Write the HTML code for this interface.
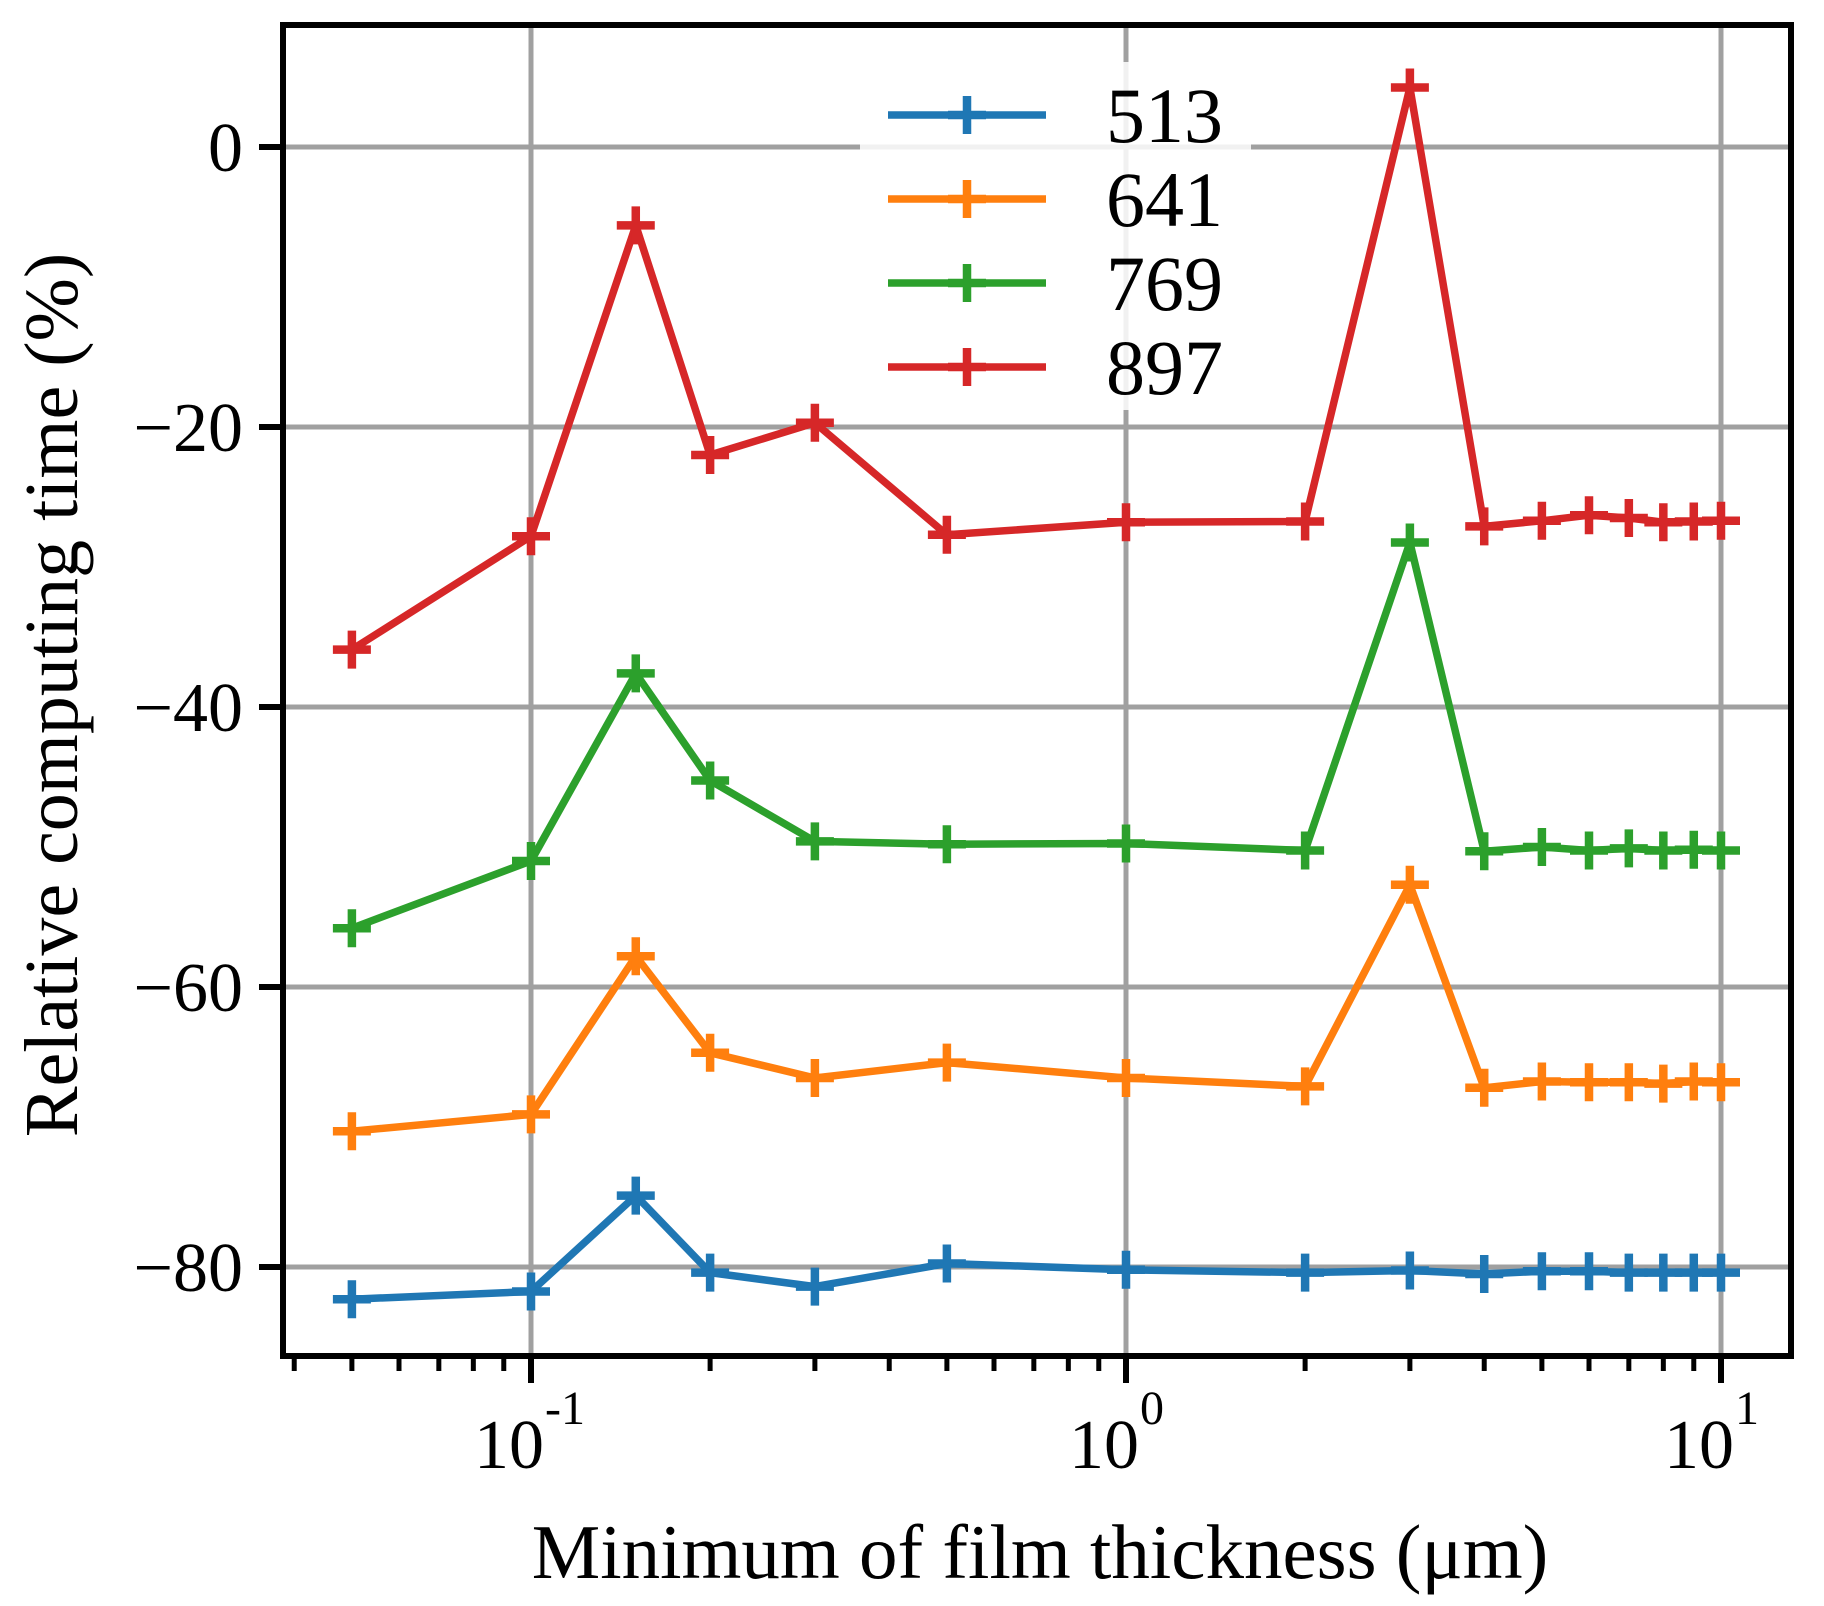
<!DOCTYPE html>
<html><head><meta charset="utf-8"><style>
html,body{margin:0;padding:0;background:#fff}
svg{display:block}
text{font-family:"Liberation Serif","DejaVu Serif",serif;fill:#000}
</style></head><body>
<svg id="chart" width="1824" height="1606" viewBox="0 0 1824 1606" xmlns="http://www.w3.org/2000/svg">
<rect width="1824" height="1606" fill="#fff"/>
<g id="grid"></g>
<g id="series"></g>
<g id="axes"></g>
<g id="legend"></g>
</svg>
<script>
const xValues = [0.05,0.1,0.15,0.2,0.3,0.5,1,2,3,4,5,6,7,8,9,10];
const seriesNames = ["513","641","769","897"];
const seriesColors = ["#1f77b4","#ff7f0e","#2ca02c","#d62728"];
const s513 = [-82.3,-81.75,-74.9,-80.4,-81.4,-79.75,-80.2,-80.4,-80.25,-80.5,-80.3,-80.3,-80.4,-80.4,-80.4,-80.4];
const s641 = [-70.3,-69.1,-57.8,-64.7,-66.5,-65.4,-66.5,-67.1,-52.7,-67.2,-66.75,-66.8,-66.8,-66.9,-66.75,-66.8];
const s769 = [-55.8,-51,-37.6,-45.25,-49.6,-49.8,-49.75,-50.25,-28.25,-50.3,-50,-50.25,-50.1,-50.25,-50.2,-50.25];
const s897 = [-35.9,-27.8,-5.6,-22,-19.7,-27.7,-26.8,-26.75,4.25,-27.1,-26.7,-26.3,-26.5,-26.8,-26.75,-26.7];
const yTicks = [0,-20,-40,-60,-80];
const yTickLabels = ["0","\u221220","\u221240","\u221260","\u221280"];
const xMajorTicks = [-1,0,1];
const xMinorTicks = [0.04,0.05,0.06,0.07,0.08,0.09,0.2,0.3,0.4,0.5,0.6,0.7,0.8,0.9,2,3,4,5,6,7,8,9];

const L=283,R=1791,T=25,B=1356;
const NS="http://www.w3.org/2000/svg";
function xs(v){return 531+(Math.log10(v)+1)*595;}
function ys(v){return 147-v*14;}
function mk(tag,attrs,parent){const e=document.createElementNS(NS,tag);for(const k in attrs)e.setAttribute(k,attrs[k]);parent.appendChild(e);return e;}
const grid=document.getElementById('grid'),ser=document.getElementById('series'),axes=document.getElementById('axes'),leg=document.getElementById('legend');

xMajorTicks.forEach(p=>{const x=xs(Math.pow(10,p));
 const g=mk('line',{x1:x,x2:x,y1:T,y2:B,stroke:'#a0a0a0','stroke-width':5},grid);
 
 });
yTicks.forEach(v=>{const y=ys(v);
 const g=mk('line',{x1:L,x2:R,y1:y,y2:y,stroke:'#a0a0a0','stroke-width':5},grid);
 
 });

const all=[s513,s641,s769,s897];
all.forEach((arr,i)=>{
 const g=mk('g',{},ser);
 
 
 const pts=arr.map((v,j)=>xs(xValues[j]).toFixed(1)+','+ys(v).toFixed(1)).join(' ');
 const pl=mk('polyline',{points:pts,fill:'none',stroke:seriesColors[i],'stroke-width':7.5,'stroke-linejoin':'round'},g);
 
 
 arr.forEach((v,j)=>{const x=xs(xValues[j]),y=ys(v);
  const p=mk('path',{d:`M${x-19},${y}H${x+19}M${x},${y-19}V${y+19}`,stroke:seriesColors[i],'stroke-width':8.5},g);
  
  });
});

const fr=mk('rect',{x:L,y:T,width:R-L,height:B-T,fill:'none',stroke:'#000','stroke-width':6},axes);


yTicks.forEach((v,i)=>{const y=ys(v);
 const t=mk('line',{x1:L-24,x2:L,y1:y,y2:y,stroke:'#000','stroke-width':6},axes);
 
 
 const tx=mk('text',{x:L-40,y:y+24,'text-anchor':'end','font-size':70},axes);
 tx.textContent=yTickLabels[i];
 
 });
xMinorTicks.forEach(v=>{const x=xs(v);
 const t=mk('line',{x1:x,x2:x,y1:B,y2:B+15,stroke:'#000','stroke-width':5},axes);
 
 });
xMajorTicks.forEach(p=>{const x=xs(Math.pow(10,p));
 const t=mk('line',{x1:x,x2:x,y1:B,y2:B+27,stroke:'#000','stroke-width':6},axes);
 
 
 const tx=mk('text',{x:x-22,y:1468,'text-anchor':'middle','font-size':70},axes);
 tx.textContent='10';
 
 
 const sp=mk('text',{x:x+14,y:1424,'text-anchor':'start','font-size':48},axes);
 sp.textContent=p<0?'-1':String(p);
 
 });
const xl=mk('text',{x:1040,y:1578,'text-anchor':'middle','font-size':77},axes);
xl.textContent='Minimum of film thickness (\u03bcm)';


const yl=mk('text',{x:0,y:0,'text-anchor':'middle','font-size':76,transform:'translate(77,695) rotate(-90)'},axes);
yl.textContent='Relative computing time (%)';



const bg=mk('rect',{x:860,y:62,width:391,height:348,rx:8,fill:'#fff','fill-opacity':0.85,stroke:'none'},leg);


seriesNames.forEach((n,i)=>{const y=115+i*84;
 const g=mk('g',{},leg);
 
 
 mk('line',{x1:888,x2:1046,y1:y,y2:y,stroke:seriesColors[i],'stroke-width':7.5},g);
 mk('path',{d:`M948,${y}H986M967,${y-19}V${y+19}`,stroke:seriesColors[i],'stroke-width':8.5},g);
 const t=mk('text',{x:1106,y:y+27,'font-size':78},g);
 t.textContent=n;
 
 });
</script>
</body></html>
